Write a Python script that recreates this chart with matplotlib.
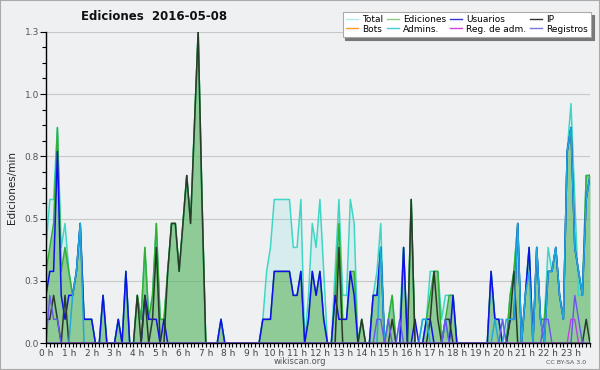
import matplotlib
matplotlib.use("Agg")
import matplotlib.pyplot as plt
import numpy as np
from matplotlib.lines import Line2D
from matplotlib.patches import Rectangle

# ---- data (10-minute slots, edits per minute) ----
title = "Ediciones  2016-05-08"
y_label = "Ediciones/min"
hour_labels = [f"{h} h" for h in range(24)]
y_ticks = [0, 0.26, 0.52, 0.78, 1.04, 1.3]
y_tick_labels = ["0.0", "0.3", "0.5", "0.8", "1.0", "1.3"]

total = [
0.4,0.6,0.6,0.9,0.4,0.5, 0.3,0.2,0.3,0.5,0.1,0.1, 0.1,0,0,0.2,0,0, 0,0.1,0,0.3,0,0,
0.2,0.1,0.4,0.1,0.2,0.5, 0.1,0.1,0.3,0.5,0.5,0.3, 0.5,0.7,0.5,0.9,1.3,0.6, 0,0,0,0,0.1,0,
0,0,0,0,0,0, 0,0,0,0.1,0.3,0.4, 0.6,0.6,0.6,0.6,0.6,0.4, 0.4,0.6,0,0.2,0.5,0.4,
0.6,0.3,0,0,0.3,0.6, 0.2,0.2,0.6,0.5,0,0.1, 0,0,0.2,0.3,0.5,0, 0.1,0.2,0,0.1,0.4,0,
0.6,0,0,0.1,0.1,0.3, 0.3,0.3,0.1,0.2,0.2,0.2, 0,0,0,0,0,0, 0,0,0,0.3,0.1,0.1,
0.1,0,0.2,0.3,0.5,0, 0.2,0.4,0,0.4,0.1,0.1, 0.4,0.3,0.4,0.2,0.1,0.8, 1.0,0.6,0.2,0.2,0.7,0.7]

ediciones = [
0.3,0.4,0.5,0.9,0.3,0.4, 0.3,0.2,0.3,0.5,0.1,0.1, 0.1,0,0,0.2,0,0, 0,0.1,0,0.3,0,0,
0.2,0.1,0.4,0.1,0.2,0.5, 0.1,0.1,0.3,0.5,0.5,0.3, 0.5,0.7,0.5,0.9,1.3,0.6, 0,0,0,0,0.1,0,
0,0,0,0,0,0, 0,0,0,0.1,0.1,0.1, 0.3,0.3,0.3,0.3,0.3,0.2, 0.2,0.3,0,0.1,0.3,0.2,
0.3,0.1,0,0,0.2,0.5, 0.1,0.1,0.3,0.3,0,0.1, 0,0,0.2,0.2,0.4,0, 0.1,0.2,0,0,0.4,0,
0.6,0,0,0,0.1,0.2, 0.3,0.3,0,0.1,0.2,0.2, 0,0,0,0,0,0, 0,0,0,0.3,0.1,0.1,
0,0,0.2,0.3,0.5,0, 0.2,0.4,0,0.4,0.1,0.1, 0.3,0.3,0.4,0.2,0.1,0.8, 0.9,0.4,0.3,0.2,0.7,0.7]

usuarios = [
0.2,0.3,0.3,0.8,0.2,0.1, 0.2,0.2,0.3,0.5,0.1,0.1, 0.1,0,0,0.2,0,0, 0,0.1,0,0.3,0,0,
0,0,0.2,0.1,0.1,0.1, 0,0.1,0,0,0,0, 0,0,0,0,0,0, 0,0,0,0,0.1,0,
0,0,0,0,0,0, 0,0,0,0.1,0.1,0.1, 0.3,0.3,0.3,0.3,0.3,0.2, 0.2,0.3,0,0.1,0.3,0.2,
0.3,0.1,0,0,0.2,0.1, 0.1,0.1,0.3,0.2,0,0, 0,0,0.2,0.2,0.4,0, 0,0,0,0,0.4,0,
0,0.1,0,0,0.1,0.1, 0,0,0,0,0,0.2, 0,0,0,0,0,0, 0,0,0,0.3,0.1,0.1,
0,0,0.1,0.1,0.5,0, 0.2,0.4,0,0.4,0.1,0, 0.3,0.3,0.4,0.2,0.1,0.8, 0.9,0.4,0.3,0.2,0.6,0.7]

ip = [
0.1,0.1,0.2,0.1,0,0.2, 0,0,0,0,0,0, 0,0,0,0,0,0, 0,0,0,0,0,0,
0.2,0,0.2,0,0.1,0.4, 0,0,0.3,0.5,0.5,0.3, 0.5,0.7,0.5,0.9,1.3,0.6, 0,0,0,0,0,0,
0,0,0,0,0,0, 0,0,0,0,0,0, 0,0,0,0,0,0, 0,0,0,0,0,0,
0,0,0,0,0,0.4, 0,0,0,0,0,0.1, 0,0,0,0,0,0, 0,0.1,0,0,0,0,
0.6,0,0,0,0,0.1, 0.3,0.1,0,0.1,0.1,0, 0,0,0,0,0,0, 0,0,0,0,0,0,
0,0,0.1,0.3,0,0, 0,0,0,0,0,0, 0,0,0,0,0,0, 0,0,0,0,0.1,0]

bots = [0] * 144

admins = [
0,0,0,0,0,0, 0,0.2,0.3,0.5,0,0, 0,0,0,0,0,0, 0,0,0,0,0,0,
0,0,0,0,0,0, 0,0,0,0,0,0, 0,0,0,0,0,0, 0,0,0,0,0,0,
0,0,0,0,0,0, 0,0,0,0,0,0, 0,0,0,0,0,0, 0,0,0,0,0,0,
0,0,0,0,0,0, 0,0,0,0,0,0, 0,0,0,0,0.4,0, 0,0,0,0,0,0,
0,0,0,0.1,0.1,0, 0,0,0,0.1,0,0, 0,0,0,0,0,0, 0,0,0,0,0.1,0,
0,0.1,0.1,0.1,0.5,0, 0.2,0.3,0,0.4,0.1,0, 0.3,0.3,0.4,0.2,0.1,0.8, 0.9,0.4,0.3,0.2,0.6,0.7]

reg_adm = [0] * 138 + [0.1, 0.1, 0, 0, 0, 0]

registros = [
0,0.2,0.1,0.1,0,0, 0,0,0,0,0,0, 0,0,0,0,0,0, 0,0,0,0,0,0,
0,0,0,0,0,0, 0,0,0,0,0,0, 0,0,0,0,0,0, 0,0,0,0,0,0,
0,0,0,0,0,0, 0,0,0,0,0,0, 0,0,0,0,0,0, 0,0,0,0,0,0,
0,0,0,0,0,0, 0,0,0,0,0,0, 0,0,0,0.1,0.1,0, 0.1,0,0,0.1,0,0,
0,0,0,0,0,0, 0,0,0,0.1,0,0, 0,0,0,0,0,0, 0,0,0,0,0,0,
0.1,0,0,0,0,0, 0,0,0,0,0,0.1, 0.1,0,0,0,0,0, 0,0.2,0.1,0,0,0]

# ---- figure ----
BG = "#eef0f2"
fig = plt.figure(figsize=(6, 3.7), dpi=100, facecolor=BG)
ax = fig.add_axes([46/600, 1 - 343.3/370, 544/600, 311.6/370])
ax.set_facecolor(BG)

x = np.arange(len(total)) / 6.0

ax.fill_between(x, total, color="#40e0d0", alpha=0.13, lw=0, zorder=1)
ax.fill_between(x, ediciones, color="#5fb55f", alpha=0.6, lw=0, zorder=1.1)
ax.plot(x, total, color="#3fd6c6", lw=1.1, zorder=2)
ax.plot(x, ediciones, color="#33b033", lw=1.1, zorder=2.1)
ax.plot(x, bots, color="#ff9933", lw=1.0, zorder=2.2)
ax.plot(x, usuarios, color="#1010ee", lw=1.1, zorder=2.3)
ax.plot(x, ip, color="#2a3a2a", lw=1.1, zorder=2.4)
ax.plot(x, admins, color="#22a8dd", lw=1.1, zorder=2.5)
ax.plot(x, registros, color="#6a55ee", lw=1.0, zorder=2.6)
ax.plot(x, reg_adm, color="#bb44dd", lw=1.0, zorder=2.7)

ax.set_xlim(0, (len(total) - 1) / 6.0)
ax.set_ylim(0, 1.3)

ax.set_yticks(y_ticks)
ax.set_yticklabels(y_tick_labels)
ax.set_yticks(np.arange(0, 1.3001, 0.065), minor=True)
ax.set_xticks(np.arange(24))
ax.set_xticklabels(hour_labels)
ax.set_xticks(np.arange(0, 24, 1/6), minor=True)

ax.tick_params(axis="both", which="both", direction="out", color="black", width=0.8)
ax.tick_params(axis="y", which="major", length=4, labelsize=6.5, labelcolor="#555555", pad=1)
ax.tick_params(axis="y", which="minor", length=3)
ax.tick_params(axis="x", which="major", length=3, labelsize=6.5, labelcolor="#444444", pad=1)
ax.tick_params(axis="x", which="minor", length=3)

ax.grid(axis="y", which="major", color="#c8c8c8", lw=0.8, zorder=0)
ax.set_axisbelow(True)
for s in ["top", "right"]:
    ax.spines[s].set_visible(False)
for s in ["left", "bottom"]:
    ax.spines[s].set_color("black")
    ax.spines[s].set_linewidth(1.0)
    ax.spines[s].set_zorder(5)

fig.text(12/600, 1 - 188/370, y_label, rotation=90, ha="center", va="center",
         fontsize=7.5, color="#222222")

fig.text(154/600, 1 - 17/370, title, ha="center", va="center",
         fontsize=8.5, fontweight="bold", color="#111111")

legend_names = ["Total", "Bots", "Ediciones", "Admins.", "Usuarios", "Reg. de adm.", "IP", "Registros"]
legend_colors = ["#aeeeea", "#ff9933", "#88cc88", "#44ccdd", "#3333dd", "#cc44dd", "#333333", "#7777dd"]
handles = [Line2D([0], [0], color=c, lw=1.0) for c in legend_colors]
leg = fig.legend(handles, legend_names, ncol=4, loc="upper right",
                 bbox_to_anchor=(591/600, 1 - 12/370), fontsize=6.5,
                 frameon=True, fancybox=False, shadow={"color": "#777777", "alpha": 1},
                 handlelength=1.3, handletextpad=0.5, columnspacing=0.4,
                 labelspacing=0.05, borderpad=0.35, borderaxespad=0)
leg.get_frame().set_edgecolor("#aaaaaa")
leg.get_frame().set_linewidth(0.8)
leg.get_frame().set_facecolor("white")

fig.text(300/600, 1 - 361/370, "wikiscan.org", ha="center", va="center",
         fontsize=6, color="#555555")
fig.text(566/600, 1 - 362/370, "CC BY-SA 3.0", ha="center", va="center",
         fontsize=4.5, color="#555555")

fig.patches.append(Rectangle((0, 0), 1, 1, transform=fig.transFigure, fill=False,
                             edgecolor="#aaaaaa", lw=1.5))

fig.savefig("out.png", dpi=100, facecolor=BG)
